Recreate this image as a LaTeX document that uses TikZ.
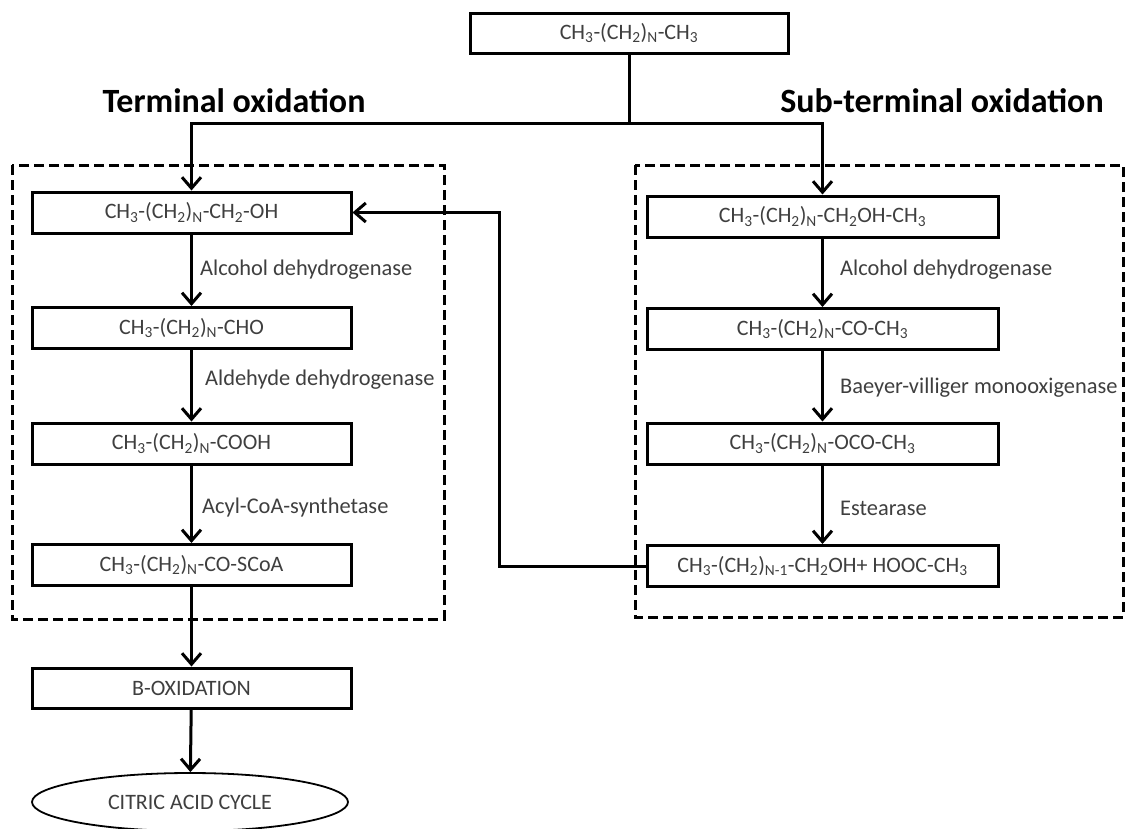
\documentclass[tikz,border=0pt]{standalone}
\usepackage{fontspec}
\setmainfont{Carlito}
\usetikzlibrary{arrows.meta,shapes.geometric}
\definecolor{txt}{HTML}{3F3F3F}
\newcommand{\sbs}[1]{\textsubscript{#1}}
\begin{document}
\begin{tikzpicture}[x=1pt,y=-1pt,
  chem/.style={draw=black,line width=3pt,fill=white,minimum height=41pt,inner sep=0pt,
    text=txt,font=\fontsize{22}{26}\selectfont},
  lbox/.style={chem,minimum width=319pt},
  rbox/.style={chem,minimum width=351pt},
  enz/.style={anchor=west,text=txt,font=\fontsize{22.4}{27}\selectfont,inner sep=0pt},
  ttl/.style={text=black,font=\bfseries\fontsize{34}{40}\selectfont,inner sep=0pt},
  conn/.style={line width=3pt},
  arr/.style={conn,-{Straight Barb[length=11pt,width=19pt,line width=3pt]}},
  grp/.style={line width=3pt,dash pattern=on 10pt off 5pt}]
\useasboundingbox (0,0) rectangle (1125,828);
\fill[white] (0,0) rectangle (1125,828);
% group frames
\draw[grp] (12,165) rectangle (444,619);
\draw[grp] (635,165) rectangle (1123,617);
% titles
\node[ttl] (t1) at (234,101) {Terminal oxidation};
\node[ttl] (t2) at (942,101) {Sub-terminal oxidation};
% top
\node[chem,minimum width=318pt,minimum height=40pt] (top) at (629,33) {CH\sbs{3}-(CH\sbs{2})\sbs{N}-CH\sbs{3}};
% left column
\node[lbox] (l1) at (191.5,212.5) {CH\sbs{3}-(CH\sbs{2})\sbs{N}-CH\sbs{2}-OH};
\node[lbox] (l2) at (191.5,328) {CH\sbs{3}-(CH\sbs{2})\sbs{N}-CHO};
\node[lbox] (l3) at (191.5,443.5) {CH\sbs{3}-(CH\sbs{2})\sbs{N}-COOH};
\node[lbox] (l4) at (191.5,565) {CH\sbs{3}-(CH\sbs{2})\sbs{N}-CO-SCoA};
\node[lbox,minimum height=40pt] (bo) at (191.5,688) {B-OXIDATION};
\node[ellipse,draw=black,line width=1.8pt,fill=white,minimum width=316pt,minimum height=58pt,inner sep=0pt,
  text=txt,font=\fontsize{22}{26}\selectfont] (cac) at (190,802) {CITRIC ACID CYCLE};
% right column
\node[rbox] (r1) at (822.5,216.5) {CH\sbs{3}-(CH\sbs{2})\sbs{N}-CH\sbs{2}OH-CH\sbs{3}};
\node[rbox] (r2) at (822.5,329) {CH\sbs{3}-(CH\sbs{2})\sbs{N}-CO-CH\sbs{3}};
\node[rbox] (r3) at (822.5,443.5) {CH\sbs{3}-(CH\sbs{2})\sbs{N}-OCO-CH\sbs{3}};
\node[rbox] (r4) at (822.5,566) {CH\sbs{3}-(CH\sbs{2})\sbs{N-1}-CH\sbs{2}OH+ HOOC-CH\sbs{3}};
% enzyme labels
\node[enz] (e1) at (200,270) {Alcohol dehydrogenase};
\node[enz] (e2) at (205,380) {Aldehyde dehydrogenase};
\node[enz] (e3) at (202,508) {Acyl-CoA-synthetase};
\node[enz] (e4) at (840,270) {Alcohol dehydrogenase};
\node[enz] (e5) at (840,388) {Baeyer-villiger monooxigenase};
\node[enz] (e6) at (840,508) {Estearase};
% connectors
\coordinate (sp) at (629,123);
\coordinate (fb) at (499,400);
\draw[conn] (top.south) -- (sp);
\draw[arr] (sp) -| (l1.north);
\draw[arr] (sp) -| (r1.north);
\draw[arr] (l1) -- (l2);
\draw[arr] (l2) -- (l3);
\draw[arr] (l3) -- (l4);
\draw[arr] (l4) -- (bo);
\draw[arr] (bo) -- (cac);
\draw[arr] (r1) -- (r2);
\draw[arr] (r2) -- (r3);
\draw[arr] (r3) -- (r4);
\draw[arr] (r4.west) -| (fb) |- (l1.east);
\end{tikzpicture}
\end{document}
